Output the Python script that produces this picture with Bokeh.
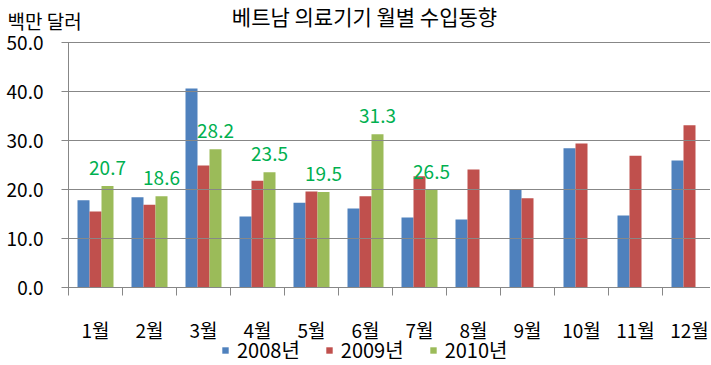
from bokeh.plotting import figure
from bokeh.models import (Range1d, FixedTicker, ColumnDataSource, Legend, LegendItem,
                          PrintfTickFormatter)
from bokeh.core.properties import value
from bokeh.embed import file_html
from bokeh.resources import INLINE

# ---------------- data ----------------
months = ["1월", "2월", "3월", "4월", "5월", "6월", "7월", "8월", "9월", "10월", "11월", "12월"]
y2008 = [17.8, 18.4, 40.6, 14.5, 17.3, 16.1, 14.3, 13.9, 19.9, 28.4, 14.7, 25.9]
y2009 = [15.5, 16.9, 24.9, 21.8, 19.6, 18.6, 22.7, 24.1, 18.2, 29.4, 26.9, 33.1]
y2010 = [20.7, 18.6, 28.2, 23.5, 19.5, 31.3, 19.9]
labels2010 = ["20.7", "18.6", "28.2", "23.5", "19.5", "31.3", "26.5"]
series_names = ["2008년", "2009년", "2010년"]
colors = ["#4F81BD", "#C0504D", "#9BBB59"]
y_ticks = [0, 10, 20, 30, 40, 50]
title_text = "베트남 의료기기 월별 수입동향"
unit_text = "백만 달러"

FONT = "Noto Sans CJK KR"
GRID = "#878787"

# ---------------- layout constants (pixels) ----------------
W, H = 710, 364            # canvas size
AX_X, AX_Y = 68, 287       # pixel position of the data origin inside the canvas
PX_X = 54.0                # pixels per month
PX_Y = 4.9                 # pixels per unit of value
PLOT_W = W - AX_X          # width of the data area


def dx(px):  # canvas px -> data x
    return (px - AX_X) / PX_X


def dy(py):  # canvas px -> data y
    return (AX_Y - py) / PX_Y


p = figure(width=W, height=H, output_backend="svg", toolbar_location=None, title=None,
           x_range=Range1d(dx(0), dx(W)), y_range=Range1d(dy(H), dy(0)),
           min_border=0)
p.outline_line_color = None
p.background_fill_color = "white"
p.border_fill_color = "white"
p.xgrid.visible = False
p.ygrid.visible = False

bar_w = 12 / PX_X
offsets = [-bar_w, 0.0, bar_w]
series = [y2008, y2009, y2010]

renderers = []
for vals, off, col in zip(series, offsets, colors):
    src = ColumnDataSource(dict(x=[i + 0.5 + off for i in range(len(vals))], top=vals))
    r = p.vbar(x="x", top="top", bottom=0, width=bar_w, source=src,
               fill_color=col, line_color=None)
    renderers.append(r)

lab_src = ColumnDataSource(dict(x=[i + 0.5 + offsets[2] for i in range(len(y2010))],
                                y=y2010, t=labels2010))
p.text(x="x", y="y", text="t", source=lab_src, text_font=value(FONT),
       text_font_size="19px", text_color="#00B050", text_align="center",
       text_baseline="middle", y_offset=-18)

# y axis (drawn at x = 0; its inward ticks act as the horizontal gridlines)
p.yaxis.fixed_location = 0
p.yaxis.bounds = (0, 50)
p.yaxis.ticker = FixedTicker(ticks=y_ticks)
p.yaxis.formatter = PrintfTickFormatter(format="%.1f")
p.yaxis.major_label_text_font = FONT
p.yaxis.major_label_text_font_size = "19px"
p.yaxis.major_label_text_color = "black"
p.yaxis.major_tick_out = 7
p.yaxis.major_tick_in = PLOT_W
p.yaxis.minor_tick_line_color = None
p.yaxis.major_tick_line_color = GRID
p.yaxis.axis_line_color = GRID
p.yaxis.major_label_standoff = 18

# x axis (drawn at y = 0)
centers = [i + 0.5 for i in range(len(months))]
p.xaxis.fixed_location = 0
p.xaxis.bounds = (0, len(months))
p.xaxis.ticker = FixedTicker(ticks=centers, minor_ticks=list(range(len(months) + 1)))
p.xaxis.major_label_overrides = {c: m for c, m in zip(centers, months)}
p.xaxis.major_label_text_font = FONT
p.xaxis.major_label_text_font_size = "19px"
p.xaxis.major_label_text_color = "black"
p.xaxis.major_tick_line_color = None
p.xaxis.major_tick_out = 0
p.xaxis.major_tick_in = 0
p.xaxis.minor_tick_line_color = GRID
p.xaxis.minor_tick_out = 8
p.xaxis.minor_tick_in = 0
p.xaxis.axis_line_color = GRID
p.xaxis.major_label_standoff = 20

# header texts
p.text(x=[dx(364)], y=[dy(15)], text=[title_text], text_font=value(FONT),
       text_font_size="21px", text_color="black", text_align="center", text_baseline="middle")
p.text(x=[dx(7)], y=[dy(20)], text=[unit_text], text_font=value(FONT),
       text_font_size="19px", text_color="black", text_align="left", text_baseline="middle")

legend = Legend(items=[LegendItem(label=n, renderers=[r]) for n, r in zip(series_names, renderers)],
                orientation="horizontal", location=(221, 0),
                label_text_font=FONT, label_text_font_size="20px", label_text_color="black",
                glyph_width=8, glyph_height=8, label_standoff=8, spacing=25,
                padding=0, margin=0, border_line_color=None, background_fill_alpha=0)
p.add_layout(legend, "center")

open("out.html", "w").write(file_html(p, INLINE))
